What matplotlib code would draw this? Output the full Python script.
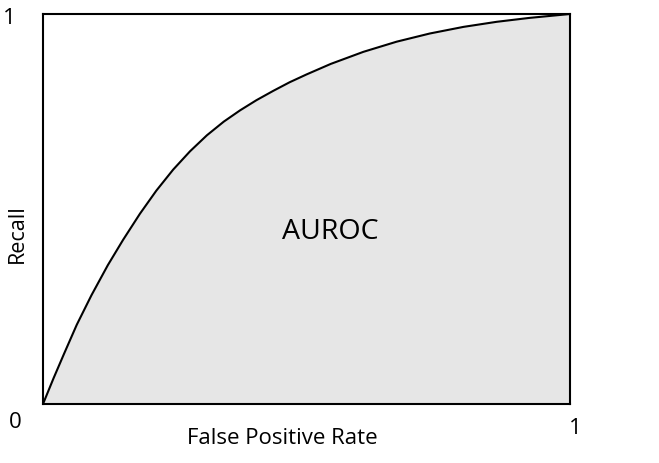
import matplotlib.pyplot as plt

plt.rcParams['font.family'] = ['Open Sans', 'DejaVu Sans']

# points
fpr = [0, 0.020, 0.040, 0.064, 0.092, 0.123, 0.152, 0.184, 0.215, 0.247,
       0.279, 0.311, 0.343, 0.374, 0.405, 0.437, 0.468, 0.500, 0.546, 0.608,
       0.671, 0.734, 0.798, 0.861, 0.923, 1.0]
recall = [0, 0.066, 0.129, 0.203, 0.279, 0.356, 0.421, 0.488, 0.547, 0.601,
          0.648, 0.689, 0.724, 0.753, 0.779, 0.803, 0.825, 0.845, 0.872, 0.903,
          0.929, 0.950, 0.967, 0.980, 0.990, 1.0]

fig = plt.figure(figsize=(6.59, 4.63), dpi=100)
ax = fig.add_axes([43 / 659, 59 / 463, 527 / 659, 390 / 463])

ax.fill_between(fpr, recall, 0, color='#e6e6e6', lw=0)
ax.plot(fpr, recall, color='black', lw=1.5, solid_joinstyle='round')
ax.set_xlim(0, 1)
ax.set_ylim(0, 1)
ax.set_xticks([])
ax.set_yticks([])
for s in ax.spines.values():
    s.set_linewidth(1.5)

ax.text(0.546, 0.441, 'AUROC', fontsize=20.5, ha='center', va='center')

# corner labels and axis titles
fig.text(9 / 659, 1 - 19 / 463, '1', fontsize=16, ha='center', va='center')
fig.text(15 / 659, 1 - 422 / 463, '0', fontsize=16, ha='center', va='center')
fig.text(575 / 659, 1 - 428 / 463, '1', fontsize=16, ha='center', va='center')
fig.text(282 / 659, 1 - 439 / 463, 'False Positive Rate', fontsize=16, ha='center', va='center')
fig.text(17 / 659, 1 - 234 / 463, 'Recall', fontsize=15.5, ha='center', va='center', rotation=90)

fig.savefig('out.png', dpi=100)
